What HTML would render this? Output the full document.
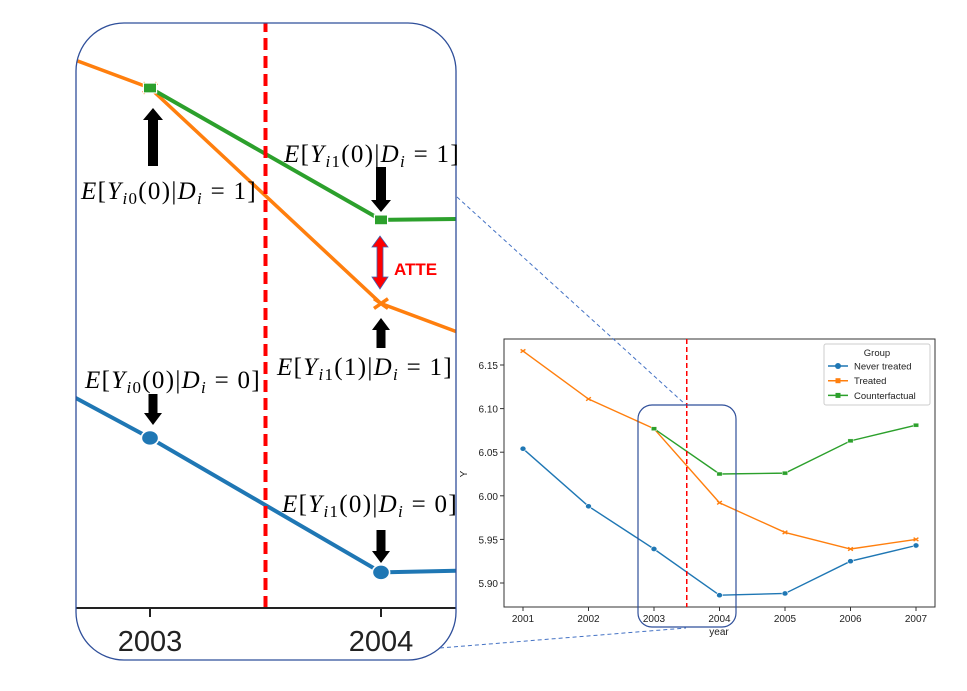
<!DOCTYPE html>
<html><head><meta charset="utf-8"><style>
body{margin:0;background:#fff;width:967px;height:691px;overflow:hidden}
svg{position:absolute;left:0;top:0}
.t{font-family:"Liberation Sans",sans-serif}
.m{font-family:"Liberation Serif",serif;font-size:25px;letter-spacing:1.3px;fill:#000}
</style></head><body>
<svg id="s" width="967" height="691">
<defs>
<clipPath id="zc"><rect x="76" y="23" width="380" height="637" rx="48"/></clipPath>
<clipPath id="pc"><rect x="504" y="339" width="431" height="268"/></clipPath>
</defs>
<g id="small"></g>
<g id="zoom" clip-path="url(#zc)"></g>
<rect x="76" y="23" width="380" height="637" rx="48" fill="none" stroke="#2f4f9a" stroke-width="1.3"/>
<rect x="638" y="405" width="98" height="222" rx="14" fill="none" stroke="#2f4f9a" stroke-width="1.2"/>
<line x1="457" y1="197" x2="686" y2="405" stroke="#4472c4" stroke-dasharray="4,3"/>
<line x1="440" y1="648" x2="686" y2="628" stroke="#4472c4" stroke-dasharray="4,3"/>
<g id="ann"></g>
</svg>
<script>
const years=[2001,2002,2003,2004,2005,2006,2007];
const neverTreated=[6.054,5.988,5.939,5.886,5.888,5.925,5.943];
const treated=[6.166,6.111,6.077,5.992,5.958,5.939,5.950];
const cfYears=[2003,2004,2005,2006,2007];
const counterfactual=[6.077,6.025,6.026,6.063,6.081];
const yTicks=[5.90,5.95,6.00,6.05,6.10,6.15];
const treatYear=2003.5;
const NS="http://www.w3.org/2000/svg";
function mk(tag,attrs,parent,txt){const e=document.createElementNS(NS,tag);for(const k in attrs)e.setAttribute(k,attrs[k]);if(txt!==undefined)e.textContent=txt;parent.appendChild(e);return e;}
const C={b:"#1f77b4",o:"#ff7f0e",g:"#2ca02c"};
function drawSeries(g,xs,ys,X,Y,col,mark,sz,lw,name){
  const pts=xs.map((x,i)=>X(x)+","+Y(ys[i])).join(" ");
  const pl=mk("polyline",{points:pts,fill:"none",stroke:col,"stroke-width":lw},g);
  
  
  xs.forEach((x,i)=>{const cx=X(x),cy=Y(ys[i]);let e;
    if(mark==="o"){e=mk("ellipse",{cx:cx,cy:cy,rx:sz*1.15,ry:sz,fill:col,stroke:"#fff","stroke-width":lw*0.4},g);}
    else if(mark==="s"){e=mk("rect",{x:cx-sz*1.2,y:cy-sz*0.9,width:sz*2.4,height:sz*1.8,fill:col,stroke:"#fff","stroke-width":lw*0.3},g);}
    else{e=mk("path",{d:`M${cx-sz},${cy-sz*0.7}L${cx+sz},${cy+sz*0.7}M${cx-sz},${cy+sz*0.7}L${cx+sz},${cy-sz*0.7}`,stroke:col,"stroke-width":lw,fill:"none"},g);}
    
    
  });
}
const sg=document.getElementById("small");
const X1=x=>523+(x-2001)*65.5, Y1=v=>365+(6.15-v)*872;
const frame=mk("rect",{x:504,y:339,width:431,height:268,fill:"none",stroke:"#333","stroke-width":1},sg);

yTicks.forEach(t=>{const y=Y1(t);mk("line",{x1:500,x2:504,y1:y,y2:y,stroke:"#333"},sg);
  const l=mk("text",{x:498,y:y+4,"text-anchor":"end","font-size":10,class:"t",fill:"#222"},sg,t.toFixed(2));
  });
years.forEach(yr=>{const x=X1(yr);mk("line",{x1:x,x2:x,y1:607,y2:611,stroke:"#333"},sg);
  const l=mk("text",{x:x,y:622,"text-anchor":"middle","font-size":10,class:"t",fill:"#222"},sg,yr);
  });
let xt=mk("text",{x:719,y:635,"text-anchor":"middle","font-size":10,class:"t",fill:"#222"},sg,"year");

let yt=mk("text",{x:467,y:474,"text-anchor":"middle","font-size":10,class:"t",fill:"#222",transform:"rotate(-90 467 474)"},sg,"Y");

const sp=mk("g",{"clip-path":"url(#pc)"},sg);
drawSeries(sp,years,neverTreated,X1,Y1,C.b,"o",2.6,1.4,"never-treated");
drawSeries(sp,years,treated,X1,Y1,C.o,"x",2.4,1.4,"treated");
drawSeries(sp,cfYears,counterfactual,X1,Y1,C.g,"s",2.2,1.4,"counterfactual");
let rl=mk("line",{x1:X1(treatYear),x2:X1(treatYear),y1:339,y2:607,stroke:"#f00","stroke-width":1.5,"stroke-dasharray":"5,3"},sg);

const lg=mk("g",{},sg);
mk("rect",{x:824,y:344,width:106,height:61,rx:2,fill:"#fff",stroke:"#ccc"},lg);
mk("text",{x:877,y:356,"text-anchor":"middle","font-size":9.5,class:"t",fill:"#222"},lg,"Group");
[["Never treated",C.b,"o"],["Treated",C.o,"x"],["Counterfactual",C.g,"s"]].forEach((e,i)=>{
  const y=366+i*14.7;
  const ent=mk("g",{},lg);
  mk("line",{x1:828,x2:848,y1:y,y2:y,stroke:e[1],"stroke-width":1.5},ent);
  if(e[2]==="o")mk("circle",{cx:838,cy:y,r:3,fill:e[1]},ent);else mk("rect",{x:835.5,y:y-2.5,width:5,height:5,fill:e[1]},ent);
  mk("text",{x:854,y:y+3.5,"font-size":9.5,class:"t",fill:"#222"},ent,e[0]);});
const zg=document.getElementById("zoom");
const X2=x=>150+(x-2003)*231, Y2=v=>88+(6.077-v)*2536;
drawSeries(zg,years,neverTreated,X2,Y2,C.b,"o",7.5,4,"zoom-never-treated");
drawSeries(zg,years,treated,X2,Y2,C.o,"x",7,3.5,"zoom-treated");
drawSeries(zg,cfYears,counterfactual,X2,Y2,C.g,"s",5.5,4,"zoom-counterfactual");
let zr=mk("line",{x1:X2(treatYear),x2:X2(treatYear),y1:20,y2:608,stroke:"#f00","stroke-width":4,"stroke-dasharray":"12,6"},zg);

mk("rect",{x:70,y:608,width:400,height:60,fill:"#fff"},zg);
mk("line",{x1:70,x2:470,y1:608,y2:608,stroke:"#222","stroke-width":2},zg);
[2003,2004].forEach(yr=>{const x=X2(yr);mk("line",{x1:x,x2:x,y1:608,y2:617,stroke:"#222","stroke-width":2},zg);
  const l=mk("text",{x:x,y:651,"text-anchor":"middle","font-size":29,class:"t",fill:"#222"},zg,yr);
  });
const an=document.getElementById("ann");
function arrow(x,y1,y2,w){const dir=y2>y1?1:-1;const hl=12*dir;
  mk("path",{d:`M${x-w/2},${y1}L${x+w/2},${y1}L${x+w/2},${y2-hl}L${x+w},${y2-hl}L${x},${y2}L${x-w},${y2-hl}L${x-w/2},${y2-hl}Z`,fill:"#000"},an);}
arrow(153,166,108,10);arrow(381,167,212,10);arrow(381,348,318,9);arrow(153,394,425,9);arrow(381,530,563,9);
mk("path",{d:"M380,236L388,247L383,247L383,277L388,277L380,289L372,277L377,277L377,247L372,247Z",fill:"#f00",stroke:"#4060b0","stroke-width":0.8},an);
let at=mk("text",{x:394,y:275,"font-size":17,"font-weight":"bold",class:"t",fill:"#f00"},an,"ATTE");

function lab(x,y,sub,arg,d){const t=mk("text",{x:x,y:y,class:"m"},an);
  
  const s=(txt,a)=>{const e=mk("tspan",a||{},t,txt);return e;};
  s("E",{"font-style":"italic"});s("[");s("Y",{"font-style":"italic"});
  s("i",{"font-style":"italic","font-size":17,dy:5});s(sub,{"font-size":17});
  s("("+arg+")|",{dy:-5});s("D",{"font-style":"italic"});s("i",{"font-style":"italic","font-size":17,dy:5});
  s(" = "+d+"]",{dy:-5});}
lab(81,199,"0","0","1");lab(284,162,"1","0","1");lab(277,375,"1","1","1");
lab(85,388,"0","0","0");lab(282,512,"1","0","0");
</script>
</body></html>
